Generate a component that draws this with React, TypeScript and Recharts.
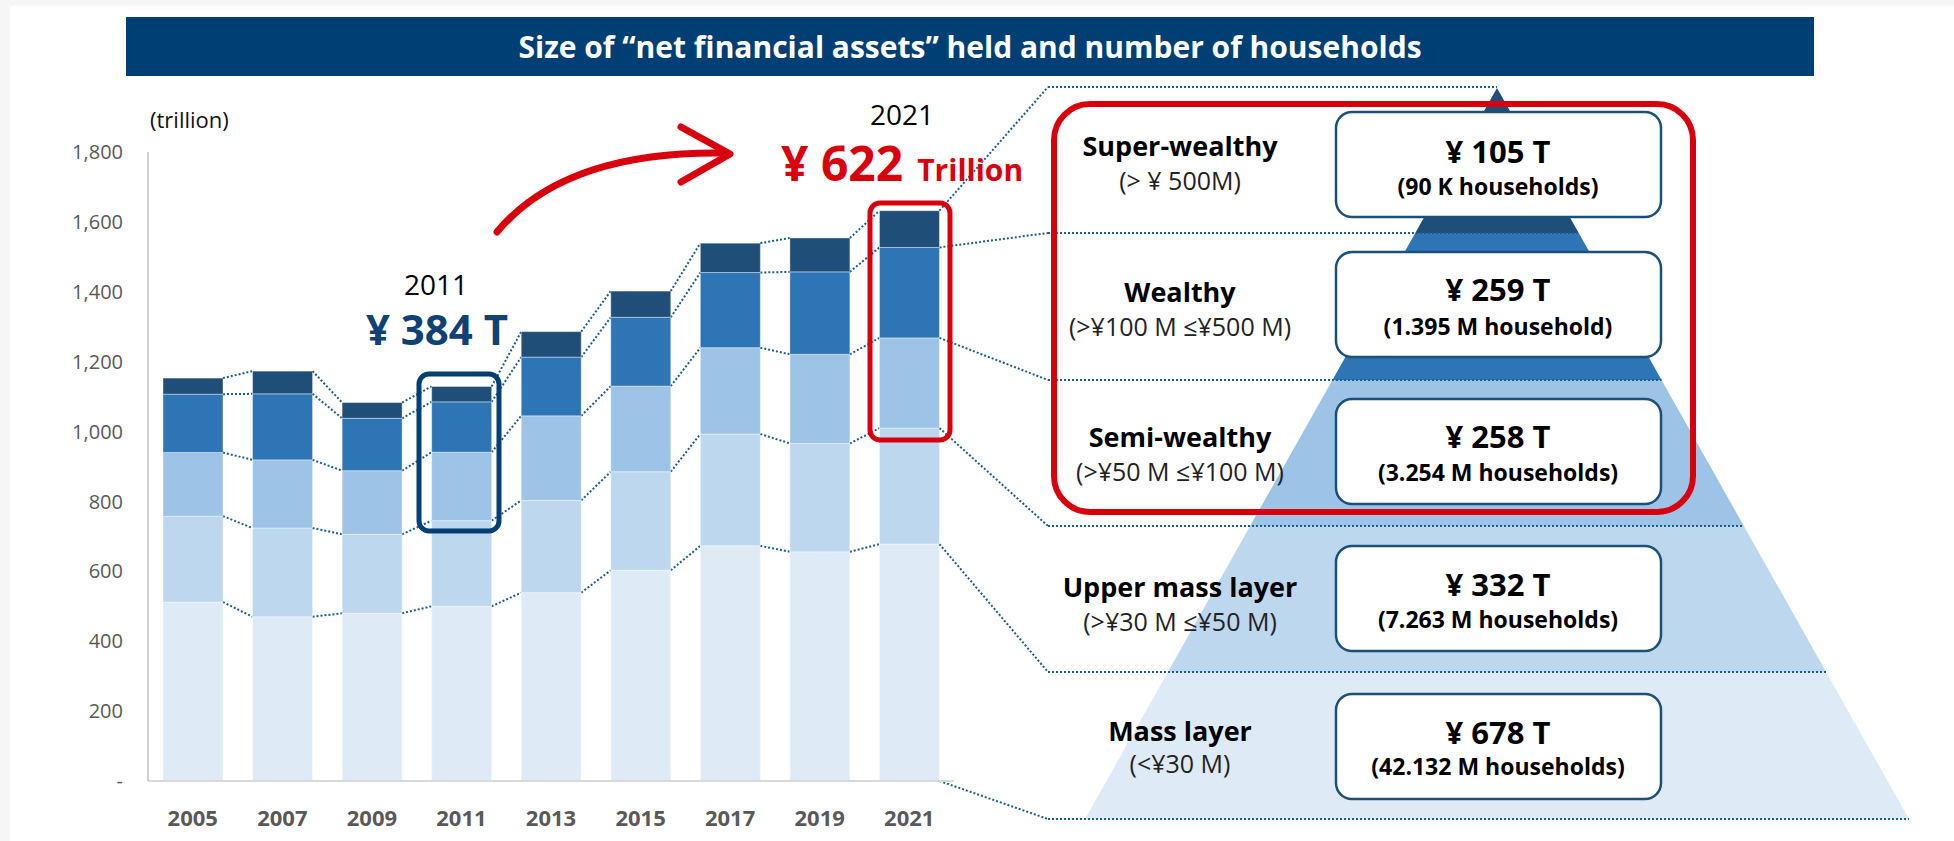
import { BarChart, Bar, XAxis, YAxis } from "recharts";

// net financial assets by household layer (trillion yen)
const YEARS = ["2005", "2007", "2009", "2011", "2013", "2015", "2017", "2019", "2021"];
const MASS = [512, 470, 480, 500, 539, 603, 673, 656, 678];
const UPPER_MASS = [246, 254, 226, 245, 264, 282, 320, 310, 332];
const SEMI_WEALTHY = [182, 195, 182, 196, 242, 245, 247, 255, 258];
const WEALTHY = [167, 189, 150, 144, 168, 197, 215, 236, 259];
const SUPER_WEALTHY = [46, 65, 45, 44, 73, 75, 84, 97, 105];

const Y_TICKS = [0, 200, 400, 600, 800, 1000, 1200, 1400, 1600, 1800];

// pyramid (top -> bottom)
const LAYER_NAMES = ["Super-wealthy", "Wealthy", "Semi-wealthy", "Upper mass layer", "Mass layer"];
const LAYER_RANGES = ["(> ¥ 500M)", "(>¥100 M ≤¥500 M)", "(>¥50 M ≤¥100 M)", "(>¥30 M ≤¥50 M)", "(<¥30 M)"];
const LAYER_TOTALS = ["¥ 105 T", "¥ 259 T", "¥ 258 T", "¥ 332 T", "¥ 678 T"];
const LAYER_HOUSEHOLDS = [
  "(90 K households)",
  "(1.395 M household)",
  "(3.254 M households)",
  "(7.263 M households)",
  "(42.132 M households)",
];

const KEYS = ["mass", "upper", "semi", "wealthy", "super"];
const COLORS: Record<string, string> = {
  mass: "#deebf7",
  upper: "#bdd7ee",
  semi: "#9dc3e6",
  wealthy: "#2e75b6",
  super: "#1f4e79",
};
const LAYER_COLORS = ["#1f4e79", "#2e75b6", "#9dc3e6", "#bdd7ee", "#deebf7"];

const DATA = YEARS.map((year, i) => ({
  year,
  mass: MASS[i],
  upper: UPPER_MASS[i],
  semi: SEMI_WEALTHY[i],
  wealthy: WEALTHY[i],
  super: SUPER_WEALTHY[i],
}));

// layout
const W = 1954;
const H = 841;
const MARGIN = { top: 152, right: 1000, bottom: 20, left: 88 };
const Y_AXIS_W = 60;
const BAND = (W - MARGIN.left - MARGIN.right - Y_AXIS_W) / YEARS.length;

const FONT = "'Open Sans', 'Noto Sans', sans-serif";
const DOT = "#1b5c8a";

// pyramid geometry
const APEX_X = 1497;
const APEX_Y = 88;
const SLOPE = 0.5636;
const BOUND_Y = [87, 233, 380, 526, 672, 819];
const CONN_X = 1048;
const TARGET_Y: Record<string, number> = { super: 87, wealthy: 233, semi: 380, upper: 526, mass: 672 };
const BOX_Y = [112, 252, 399, 546, 694];
const TEXT_Y = [147, 293, 438, 588, 732];
const SUB_Y = [182, 328, 473, 623, 765];
const VAL_Y = [152, 290, 437, 585, 733];
const HH_Y = [187, 327, 473, 620, 767];

const half = (y: number) => Math.max(0, (y - APEX_Y) * SLOPE);

function segmentShape(key: string) {
  return (props: any) => {
    const { x, y, width, height, payload } = props;
    const i = YEARS.indexOf(payload.year);
    const pos = KEYS.indexOf(key);
    const val = payload[key];
    const k = val > 0 ? height / val : 0;
    const below = KEYS.slice(0, pos).reduce((s, kk) => s + payload[kk], 0);
    const yZero = y + height + below * k;
    const x2 = x + width;
    const dotted = { stroke: DOT, strokeWidth: 2, strokeDasharray: "2 2" };
    let line = null;
    let extra = null;
    if (i < YEARS.length - 1) {
      const next: any = DATA[i + 1];
      const cumNext = KEYS.slice(0, pos + 1).reduce((s, kk) => s + next[kk], 0);
      line = <line x1={x2} y1={y} x2={x + BAND} y2={yZero - cumNext * k} {...dotted} />;
    } else {
      line = <line x1={x2} y1={y} x2={CONN_X} y2={TARGET_Y[key]} {...dotted} />;
      if (pos === 0) extra = <line x1={x2} y1={yZero} x2={CONN_X} y2={BOUND_Y[5]} {...dotted} />;
    }
    return (
      <g>
        <rect x={x} y={y} width={width} height={height} fill={COLORS[key]} stroke="#ffffff" strokeOpacity={0.4} strokeWidth={1} />
        {line}
        {extra}
      </g>
    );
  };
}

function Overlay() {
  return (
    <svg width={W} height={H} style={{ position: "absolute", left: 0, top: 0, pointerEvents: "none" }} fontFamily={FONT}>
      {/* title */}
      <rect x={126} y={17} width={1688} height={59} fill="#003f73" />
      <text x={970} y={58} textAnchor="middle" fill="#fff" fontSize={30} fontWeight={700}>
        Size of “net financial assets” held and number of households
      </text>

      <text x={150} y={128} fontSize={22} fill="#111">(trillion)</text>

      {/* pyramid layers */}
      {LAYER_COLORS.map((c, j) => {
        const yt = j === 0 ? APEX_Y : BOUND_Y[j];
        const yb = BOUND_Y[j + 1];
        const pts = [
          [APEX_X - half(yt), yt],
          [APEX_X + half(yt), yt],
          [APEX_X + half(yb), yb],
          [APEX_X - half(yb), yb],
        ]
          .map((p) => p.join(","))
          .join(" ");
        return <polygon key={j} points={pts} fill={c} />;
      })}
      {BOUND_Y.map((y, j) => (
        <line
          key={j}
          x1={CONN_X}
          y1={y}
          x2={j === 0 ? APEX_X : APEX_X + half(y)}
          y2={y}
          stroke={DOT}
          strokeWidth={2}
          strokeDasharray="2 2"
        />
      ))}

      {/* value boxes */}
      {BOX_Y.map((y, j) => (
        <g key={j}>
          <rect x={1336} y={y} width={325} height={105} rx={16} fill="#fff" stroke="#1b5078" strokeWidth={2.5} />
          <text x={1498} y={VAL_Y[j] + 11} textAnchor="middle" fontSize={31} fontWeight={700} fill="#000">
            {LAYER_TOTALS[j]}
          </text>
          <text x={1498} y={HH_Y[j] + 8} textAnchor="middle" fontSize={23} fontWeight={700} fill="#000">
            {LAYER_HOUSEHOLDS[j]}
          </text>
          <text x={1180} y={TEXT_Y[j] + 9} textAnchor="middle" fontSize={27} fontWeight={700} fill="#000">
            {LAYER_NAMES[j]}
          </text>
          <text x={1180} y={SUB_Y[j] + 8} textAnchor="middle" fontSize={25} fill="#222">
            {LAYER_RANGES[j]}
          </text>
        </g>
      ))}

      {/* highlight frames */}
      <rect x={1054} y={104} width={639} height={408} rx={36} fill="none" stroke="#d9000d" strokeWidth={6} />
      <rect x={870} y={203} width={80} height={237} rx={10} fill="none" stroke="#d9000d" strokeWidth={5} />
      <rect x={419} y={374} width={80} height={157} rx={10} fill="none" stroke="#003f73" strokeWidth={5} />

      {/* annotations */}
      <text x={436} y={295} textAnchor="middle" fontSize={28} fill="#000">2011</text>
      <text x={437} y={345} textAnchor="middle" fontSize={42} fontWeight={700} fill="#0e4174">¥ 384 T</text>
      <text x={902} y={125} textAnchor="middle" fontSize={28} fill="#000">2021</text>
      <text x={781} y={181} fontSize={48} fontWeight={700} fill="#d9000d">
        ¥ 622
        <tspan fontSize={30} dx={14}>Trillion</tspan>
      </text>
      <path d="M 497 232 Q 565 150 727 153" fill="none" stroke="#d9000d" strokeWidth={7} strokeLinecap="round" />
      <polyline points="681,127 730,154 681,182" fill="none" stroke="#d9000d" strokeWidth={7} strokeLinecap="round" strokeLinejoin="round" />
    </svg>
  );
}

export default function App() {
  return (
    <div style={{ position: "absolute", left: 0, top: 0, width: W, height: H, background: "#fff", overflow: "hidden" }}>
      <div style={{ position: "absolute", left: 0, top: 0, width: W, height: 6, background: "#f6f6f6" }} />
      <div style={{ position: "absolute", left: 0, top: 0, width: 10, height: H, background: "#f6f6f6" }} />
      <div style={{ position: "absolute", left: 0, top: 0 }}>
        <BarChart width={W} height={H} data={DATA} margin={MARGIN} barSize={60}>
          <XAxis
            dataKey="year"
            height={40}
            axisLine={{ stroke: "#d9d9d9", strokeWidth: 2 }}
            tickLine={false}
            tickMargin={23}
            tick={{ fill: "#595959", fontSize: 22, fontWeight: 700, fontFamily: FONT }}
          />
          <YAxis
            width={Y_AXIS_W}
            domain={[0, 1800]}
            ticks={Y_TICKS}
            axisLine={{ stroke: "#bfbfbf", strokeWidth: 1.5 }}
            tickLine={false}
            tickMargin={19}
            tickFormatter={(v: number) => (v === 0 ? "-" : v.toLocaleString("en-US"))}
            tick={{ fill: "#595959", fontSize: 20, fontFamily: FONT }}
          />
          {KEYS.map((key) => (
            <Bar key={key} dataKey={key} stackId="a" fill={COLORS[key]} shape={segmentShape(key)} isAnimationActive={false} />
          ))}
        </BarChart>
      </div>
      <Overlay />
    </div>
  );
}
